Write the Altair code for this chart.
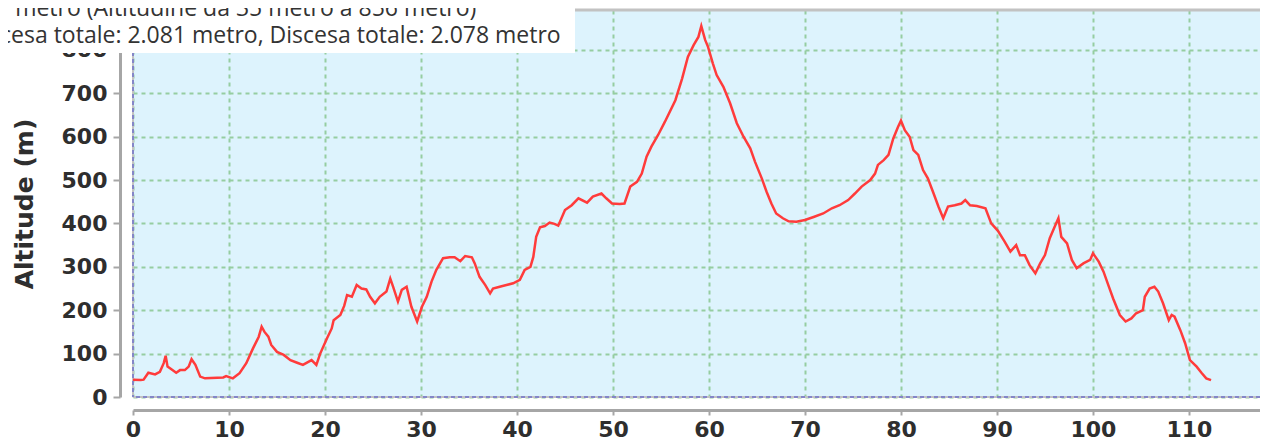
import altair as alt
import pandas as pd

# ---- data ----
dist_km = [0.0, 0.8, 1.1, 1.6, 2.3, 2.8, 3.2, 3.4, 3.6, 4.0, 4.5, 4.9, 5.4, 5.8, 6.1, 6.5, 7.0, 7.5,
           9.4, 9.7, 10.4, 11.1, 11.8, 12.5, 13.1, 13.4, 13.7, 14.1, 14.4, 15.0, 15.7, 16.4, 17.1, 17.7,
           18.6, 19.1, 19.5, 20.2, 20.7, 20.9, 21.6, 22.0, 22.3, 22.8, 23.3, 23.8, 24.3, 24.7, 25.2,
           25.7, 26.4, 26.8, 27.1, 27.6, 28.0, 28.5, 29.0, 29.6, 30.1, 30.6, 31.1, 31.6, 32.3, 33.0,
           33.5, 34.1, 34.6, 35.3, 35.6, 36.1, 36.7, 37.2, 37.5, 38.2, 38.9, 39.6, 40.3, 40.8, 41.4,
           41.7, 42.0, 42.4, 42.9, 43.4, 43.9, 44.3, 45.0, 45.7, 46.4, 47.3, 47.9, 48.8, 49.3, 49.9,
           50.7, 51.2, 51.8, 52.5, 53.0, 53.5, 54.0, 54.7, 55.4, 56.5, 57.2, 57.8, 58.4, 58.9, 59.2,
           59.6, 59.9, 60.4, 60.8, 61.5, 62.2, 62.9, 63.6, 64.3, 64.8, 65.5, 66.0, 66.5, 67.0, 67.7,
           68.3, 69.1, 70.0, 70.9, 71.9, 72.8, 73.6, 74.5, 75.2, 75.9, 76.8, 77.3, 77.6, 78.2, 78.7,
           79.2, 79.7, 80.0, 80.4, 80.9, 81.3, 81.8, 82.3, 82.8, 83.4, 83.9, 84.4, 84.9, 85.6, 86.3,
           86.7, 87.2, 87.9, 88.8, 89.4, 90.1, 90.8, 91.4, 92.0, 92.4, 92.9, 93.4, 94.0, 94.5, 95.0,
           95.5, 96.0, 96.4, 96.7, 97.3, 97.8, 98.3, 99.0, 99.7, 100.0, 100.6, 101.1, 101.6, 102.1,
           102.8, 103.4, 104.0, 104.5, 105.2, 105.4, 105.9, 106.4, 106.8, 107.3, 107.9, 108.2, 108.5,
           109.1, 109.6, 110.1, 110.8, 111.3, 111.8, 112.3]
alt_m = [40, 39, 40, 56, 52, 58, 78, 95, 70, 64, 56, 62, 62, 70, 87, 74, 47, 43,
         45, 48, 43, 55, 78, 112, 139, 162, 150, 139, 120, 104, 97, 85, 79, 74,
         85, 74, 100, 135, 158, 177, 189, 210, 235, 231, 258, 250, 248, 231, 216,
         231, 243, 273, 254, 220, 247, 254, 208, 174, 208, 231, 266, 293, 320, 322,
         322, 313, 325, 322, 308, 277, 258, 239, 250, 254, 258, 262, 270, 293, 300,
         323, 369, 391, 394, 402, 399, 395, 431, 442, 458, 448, 462, 469, 458, 446,
         445, 446, 485, 496, 515, 554, 577, 604, 634, 684, 734, 784, 811, 830, 855,
         823, 807, 769, 742, 715, 677, 631, 600, 573, 542, 504, 473, 446, 423, 412,
         405, 404, 408, 415, 423, 435, 442, 454, 469, 485, 500, 515, 535, 546, 558,
         596, 623, 637, 615, 600, 569, 558, 523, 504, 469, 439, 412, 439, 442, 446,
         454, 442, 440, 435, 400, 383, 358, 335, 350, 327, 327, 304, 285, 308, 327,
         366, 392, 412, 369, 354, 316, 297, 308, 316, 331, 312, 289, 258, 227,
         189, 174, 181, 193, 200, 231, 250, 254, 243, 216, 177, 189, 185,
         154, 124, 85, 70, 56, 43, 39]

x_ticks = [0, 10, 20, 30, 40, 50, 60, 70, 80, 90, 100, 110]
y_ticks = [0, 100, 200, 300, 400, 500, 600, 700, 800]
x_domain = [0, 117.4]
y_domain = [0, 892]
info_line1 = ["1 metro (Altitudine da 35 metro a 856 metro)"]
info_line2 = ["cesa totale: 2.081 metro, Discesa totale: 2.078 metro"]
y_title = "Altitude (m)"

W, H = 1127, 387
GRID = "#96cda1"
AXIS_GRAY = "#a6a6a6"
LABEL = "#2e2e2e"

df = pd.DataFrame({"dist": dist_km, "alt": alt_m})
x_scale = alt.Scale(domain=x_domain, nice=False, zero=False)
y_scale = alt.Scale(domain=y_domain, nice=False)

x_axis = alt.Axis(values=x_ticks, offset=13, grid=True, gridColor=GRID, gridDash=[4, 4],
                  gridWidth=2, domainColor=AXIS_GRAY, domainWidth=3, tickColor=AXIS_GRAY,
                  tickSize=5, tickWidth=2, labelFont="DejaVu Sans", labelFontSize=22,
                  labelFontWeight="bold", labelColor=LABEL, labelPadding=4, labelFlush=False,
                  title=None)
y_axis = alt.Axis(values=y_ticks, offset=13, grid=True, gridColor=GRID, gridDash=[4, 4],
                  gridWidth=2, domainColor=AXIS_GRAY, domainWidth=3, tickColor=AXIS_GRAY,
                  tickSize=7, tickWidth=2, labelFont="DejaVu Sans", labelFontSize=22,
                  labelFontWeight="bold", labelColor=LABEL, labelPadding=6, labelFlush=False,
                  title=y_title, titleFont="DejaVu Sans", titleFontSize=25,
                  titleFontWeight="bold", titleColor=LABEL, titlePadding=24)

line = alt.Chart(df).mark_line(color="#ff3b3b", strokeWidth=2.5).encode(
    x=alt.X("dist:Q", scale=x_scale, axis=x_axis),
    y=alt.Y("alt:Q", scale=y_scale, axis=y_axis),
)

one = pd.DataFrame({"k": [0]})
top_border = alt.Chart(one).mark_rule(color="#c2c2c2", strokeWidth=3).encode(y=alt.datum(y_domain[1]))
left_border = alt.Chart(one).mark_rule(color="#c2c2c2", strokeWidth=2).encode(x=alt.datum(0))
bottom_border = alt.Chart(one).mark_rule(color="#c2c2c2", strokeWidth=2).encode(y=alt.datum(0))
left_zero = alt.Chart(one).mark_rule(color="#8486c8", strokeWidth=2, strokeDash=[4, 3]).encode(x=alt.datum(0))
bottom_zero = alt.Chart(one).mark_rule(color="#8486c8", strokeWidth=2, strokeDash=[4, 3]).encode(y=alt.datum(0))

box = alt.Chart(one).mark_rect(color="white").encode(
    x=alt.value(-140), x2=alt.value(442), y=alt.value(-20), y2=alt.value(43))
t1 = alt.Chart(pd.DataFrame({"t": info_line1})).mark_text(
    align="left", baseline="alphabetic", font="Open Sans", fontSize=23, color="#333333"
).encode(text="t:N", x=alt.value(-137), y=alt.value(6))
t2 = alt.Chart(pd.DataFrame({"t": info_line2})).mark_text(
    align="left", baseline="alphabetic", font="Open Sans", fontSize=23, color="#333333"
).encode(text="t:N", x=alt.value(-133), y=alt.value(33))

chart = alt.layer(
    top_border, left_border, bottom_border, left_zero, bottom_zero, line, box, t1, t2
).properties(
    width=W, height=H,
    padding={"left": 125, "top": 2, "right": 0, "bottom": 43},
    autosize=alt.AutoSizeParams(type="none"),
).configure_view(fill="#ddf3fd", strokeWidth=0)

chart.save("out.html", embed_options={"renderer": "svg", "actions": False})
